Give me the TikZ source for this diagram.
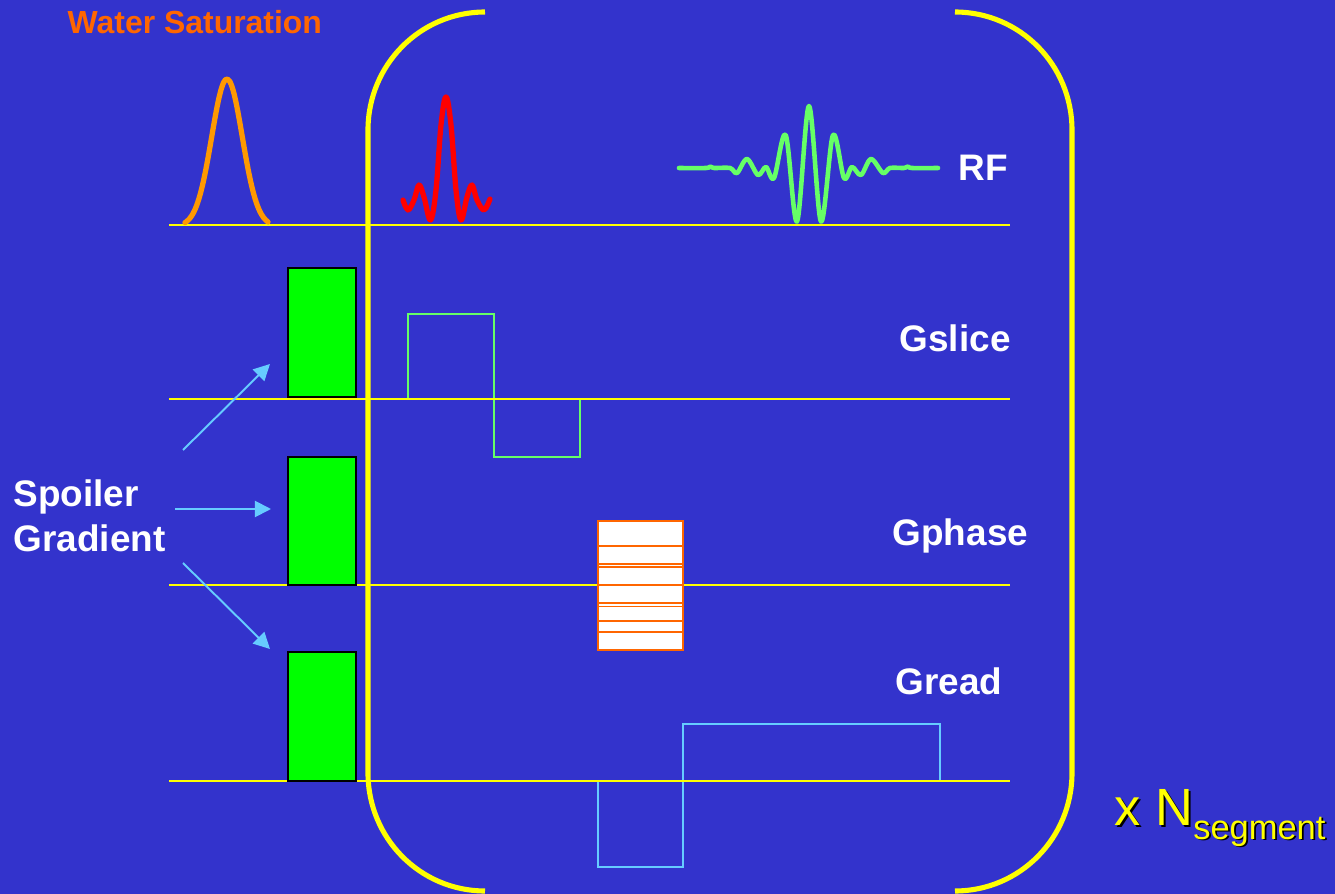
\documentclass[tikz,border=0pt]{standalone}
\usepackage{fontspec}
\setmainfont{Liberation Sans}
\usepackage{xcolor}
\usetikzlibrary{arrows.meta}

\definecolor{bgblue}{HTML}{3333CC}
\definecolor{railyellow}{HTML}{FFFF00}
\definecolor{satorange}{HTML}{FF9900}
\definecolor{phaseorange}{HTML}{FF6600}
\definecolor{rfgreen}{HTML}{66FF66}
\definecolor{readblue}{HTML}{66CCFF}

\newcommand{\dropshadow}[1]{\rlap{\kern0.5pt\raisebox{-0.5pt}{\color{black}#1}}#1}

\begin{document}
\begin{tikzpicture}[
    x=0.01cm,
    y=-0.01cm,
    >={Triangle[length=4.6pt,width=4.6pt]},
    rail/.style={draw=railyellow, line width=0.6pt},
    bracket/.style={draw=railyellow, line width=1.45pt},
    pulse/.style={line width=1.5pt, line cap=round, line join=round},
    spoiler/.style={
        rectangle,
        draw=black,
        fill=green,
        line width=0.55pt,
        minimum width=0.68cm,
        minimum height=1.28cm,
        inner sep=0pt
    },
    channel/.style={
        text=white,
        font=\fontsize{10.5pt}{12.75pt}\selectfont\bfseries,
        anchor=base west,
        inner sep=0pt
    },
    arrow/.style={->, draw=readblue, line width=0.55pt}
]

% Background
\fill [bgblue] (0,0) rectangle (1335,894);
\useasboundingbox (0,0) rectangle (1335,894);

% Baselines
\coordinate (rfL) at (169,225);
\coordinate (rfR) at (1010,225);
\coordinate (sliceL) at (169,399);
\coordinate (sliceR) at (1010,399);
\coordinate (phaseL) at (169,585);
\coordinate (phaseR) at (1010,585);
\coordinate (readL) at (169,781);
\coordinate (readR) at (1010,781);

% Gradient lobes
\draw [rfgreen, line width=0.5pt] (408,399) -- (408,314) -- (494,314) -- (494,457) -- (580,457) -- (580,399);
\draw [readblue, line width=0.5pt] (598,781) -- (598,867) -- (683,867) -- (683,724) -- (940,724) -- (940,781);

\draw [rail] (rfL) -- (rfR);
\draw [rail] (sliceL) -- (sliceR);
\draw [rail] (phaseL) -- (phaseR);
\draw [rail] (readL) -- (readR);

% Loop bracket
\draw [bracket] (485,12) .. controls (420,12) and (368,65) .. (368,130)
    -- (368,773) .. controls (368,838) and (420,891) .. (485,891);
\draw [bracket] (955,12) .. controls (1020,12) and (1072,65) .. (1072,130)
    -- (1072,773) .. controls (1072,838) and (1020,891) .. (955,891);

% Nodes
\node (watersat) [channel, text=phaseorange, font=\fontsize{9.08pt}{10pt}\selectfont\bfseries] at (67,34) {Water Saturation};
\node (rflabel) [channel] at (958,181) {RF};
\node (gslice) [channel] at (899,352) {Gslice};
\node (gphase) [channel] at (892,545.5) {Gphase};
\node (gread) [channel] at (895,695) {Gread};
\node (spoilerlabel) [channel, anchor=west, align=left] at (13,516) {Spoiler\\Gradient};

\node (spoila) [spoiler] at (322,332.5) {};
\node (spoilb) [spoiler] at (322,521) {};
\node (spoilc) [spoiler] at (322,716.5) {};

\node (nseg) [anchor=base west, inner sep=0pt, text=railyellow, font=\fontsize{14.9pt}{16pt}\selectfont] at (1114,826)
{\dropshadow{x N}\raisebox{-3.7pt}{\fontsize{9.8pt}{11pt}\selectfont\dropshadow{segment}}};

% RF pulses
\draw [pulse, satorange] plot [smooth, domain=185:268, samples=40] (\x, {226-147*exp(-(\x-227)*(\x-227)/468)});

\draw [pulse, red] plot [smooth, tension=0.6] coordinates {
    (403,200) (408,210) (414,200) (419,185) (424,197) (430.5,220) (436,190) (441,125) (446,97)
    (451,125) (456,190) (461,220) (467,197) (472,185) (477,200) (484,210) (490,199)};

\draw [pulse, rfgreen, line width=1.3pt] plot [smooth, tension=0.55] coordinates {
    (679,168) (706,168) (710,166.5) (714,168) (730,168) (737,173) (747,159) (758,175) (766,167) (774,178)
    (785.7,135) (797,221.5) (809,106) (821,221.5) (833,135) (844,178) (852,167) (861,175) (871,159)
    (883,173) (890,168) (904,168) (908,166.5) (912,168) (938,168)};

% Phase table
\node (phasebox) [rectangle, draw=phaseorange, fill=white, line width=0.6pt, minimum width=0.85cm, minimum height=1.29cm, inner sep=0pt] at (640.5,585.5) {};
\draw [phaseorange, line width=0.5pt] (598,546) -- (683,546);
\draw [phaseorange, line width=0.5pt] (598,564) -- (683,564);
\draw [phaseorange, line width=0.5pt] (598,567) -- (683,567);
\draw [phaseorange, line width=0.5pt] (598,585) -- (683,585);
\draw [phaseorange, line width=0.5pt] (598,603) -- (683,603);
\draw [phaseorange, line width=0.5pt] (598,606.5) -- (683,606.5);
\draw [phaseorange, line width=0.5pt] (598,621) -- (683,621);
\draw [phaseorange, line width=0.5pt] (598,632) -- (683,632);

% Arrows
\coordinate (upstart) at (183,450);
\coordinate (upend) at (270,364);
\coordinate (midstart) at (175,509);
\coordinate (midend) at (271,509);
\coordinate (downstart) at (183,563);
\coordinate (downend) at (270,649);

\draw [arrow] (upstart) -- (upend);
\draw [arrow] (midstart) -- (midend);
\draw [arrow] (downstart) -- (downend);

\end{tikzpicture}
\end{document}
